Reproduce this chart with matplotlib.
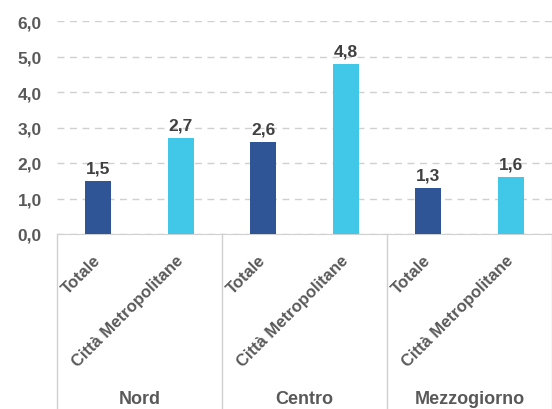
import matplotlib.pyplot as plt
import matplotlib.transforms as mtransforms

plt.rcParams['font.family'] = ['Liberation Sans', 'DejaVu Sans']

groups = ['Nord', 'Centro', 'Mezzogiorno']
categories = ['Totale', 'Città Metropolitane'] * 3
values = [1.5, 2.7, 2.6, 4.8, 1.3, 1.6]
colors = ['#2F5597', '#41C8E8'] * 3
yticks = [0, 1, 2, 3, 4, 5, 6]

fig = plt.figure(figsize=(5.52, 4.10), dpi=100)
ax = fig.add_axes([57 / 552, 175 / 410, 495 / 552, 213 / 410])

x = list(range(len(values)))
ax.bar(x, values, width=0.32, color=colors, zorder=3)
for xi, v in zip(x, values):
    ax.text(xi, v + 0.15, f'{v:.1f}'.replace('.', ','), ha='center', va='bottom',
            fontsize=12.5, fontweight='bold', color='#404040')

ax.set_ylim(0, 6)
ax.set_xlim(-0.5, 5.5)
ax.set_yticks(yticks)
ax.set_yticklabels([f'{t:.1f}'.replace('.', ',') for t in yticks],
                   fontsize=12.5, fontweight='bold', color='#595959')
ax.yaxis.grid(True, linestyle=(0, (5, 4)), color='#d0d0d0', linewidth=1, zorder=0)
ax.tick_params(axis='y', length=0, pad=11)

ax.set_xticks(x)
ax.set_xticklabels(categories, rotation=45, ha='right', va='center', rotation_mode='anchor',
                   fontsize=12, fontweight='bold', color='#595959')
ax.tick_params(axis='x', length=0, pad=17)

for s in ['top', 'right', 'left']:
    ax.spines[s].set_visible(False)
ax.spines['bottom'].set_color('#d0d0d0')

trans = mtransforms.blended_transform_factory(ax.transData, ax.transAxes)
for sep in [-0.5, 1.5, 3.5, 5.5]:
    ax.plot([sep, sep], [0, -0.83], transform=trans, color='#d0d0d0', linewidth=1, clip_on=False)
for i, g in enumerate(groups):
    ax.text(2 * i + 0.5, -0.77, g, transform=trans, ha='center', va='center',
            fontsize=13, fontweight='bold', color='#595959')

fig.savefig('out.png', dpi=100)
